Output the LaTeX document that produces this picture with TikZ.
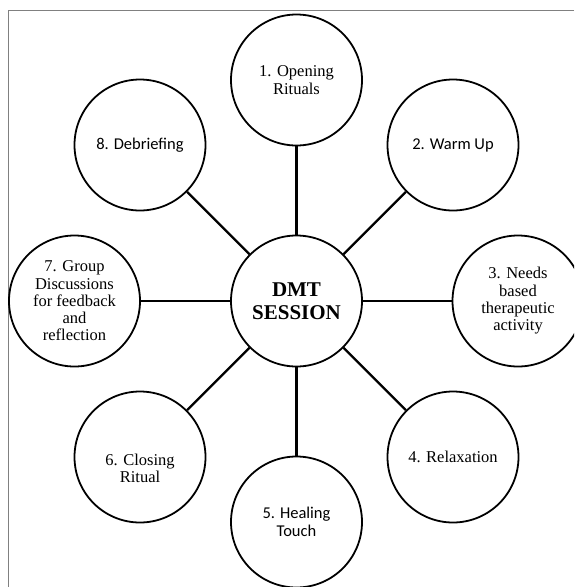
\documentclass[tikz,border=0pt]{standalone}
\usepackage{fontspec}
\setmainfont{Liberation Serif}
\newfontfamily\calibrifont{Carlito}
\usetikzlibrary{positioning}
\definecolor{framegray}{RGB}{128,128,128}
\tikzset{
  stage-node/.style={draw, circle, line width=1.8pt, minimum size=131pt,
    inner sep=0pt, align=center, font=\fontsize{16.5}{17.3}\selectfont},
  stage-sans/.style={stage-node, font=\calibrifont\fontsize{16.5}{18}\selectfont},
  hub-node/.style={stage-node, font=\bfseries\fontsize{21}{22.5}\selectfont},
  spoke-line/.style={line width=2.3pt},
  frame-line/.style={draw=framegray, line width=1.2pt}
}

\begin{document}
\begin{tikzpicture}[x=1pt, y=-1pt]
\clip (0,0) rectangle (574,587);
\useasboundingbox (0,0) rectangle (574,587);
% page frame (only top and left edges show)
\draw[frame-line] (574,10.7) -- (8.3,10.7) -- (8.3,587);
% hub
\node[hub-node] (hub) at (296.5,301) {DMT\\SESSION};
% eight stages around the hub
\node[stage-node] (open)    at (296.5,80)  {1. Opening\\Rituals};
\node[stage-sans] (warm)    at (453,145)   {2. Warm Up};
\node[stage-node] (needs)   at (518,301)   {3. Needs\\based\\therapeutic\\activity};
\node[stage-node] (relax)   at (453,457)   {4. Relaxation};
\node[stage-sans] (heal)    at (296.5,522) {5. Healing\\Touch};
\node[stage-node, label={[align=center, font=\fontsize{16.5}{17.3}\selectfont, yshift=-11pt]center:{6. Closing\\Ritual}}]
  (close) at (140,457) {};
\node[stage-node] (group)   at (74.5,301)  {7. Group\\Discussions\\for feedback\\and\\reflection};
\node[stage-sans] (debrief) at (140,145)   {8. Debriefing};
% spokes
\foreach \s in {open,warm,needs,relax,heal,close,group,debrief}
  \draw[spoke-line] (hub) -- (\s);
\end{tikzpicture}
\end{document}
